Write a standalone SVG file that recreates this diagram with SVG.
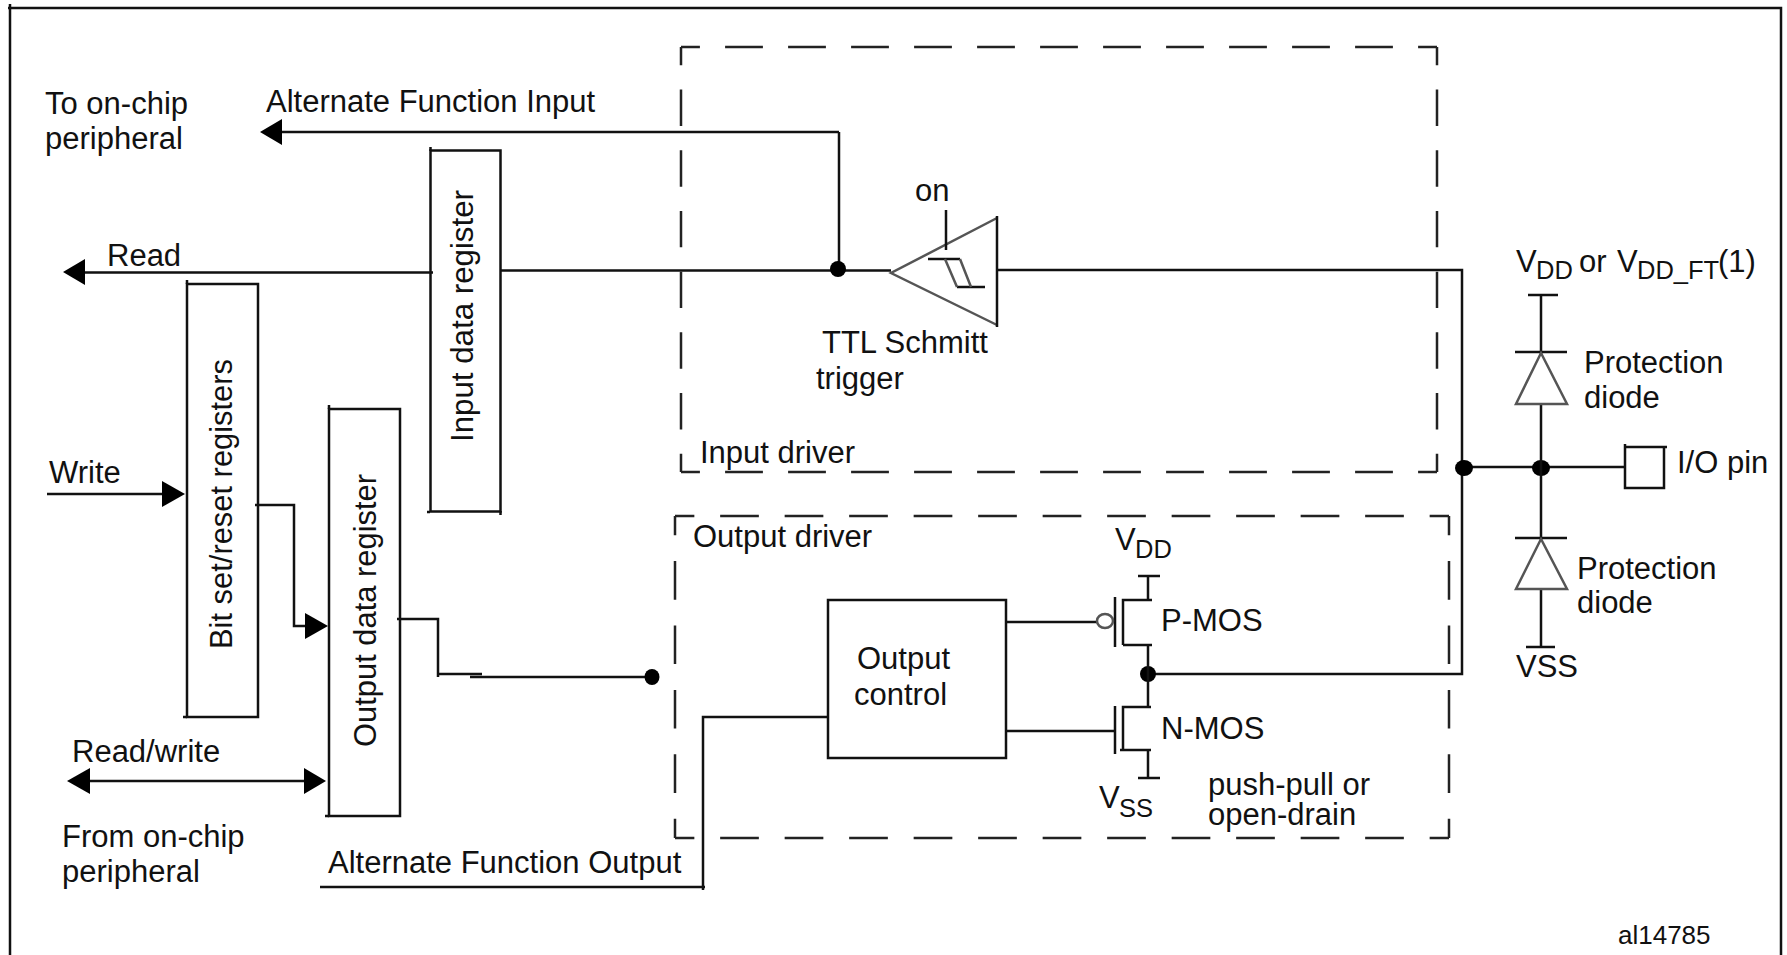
<svg xmlns="http://www.w3.org/2000/svg" width="1787" height="955" viewBox="0 0 1787 955">
<style>
text{font-family:"Liberation Sans",Arial,sans-serif;font-size:31px;fill:#111}
.sub{font-size:25.5px}
.l{fill:none;stroke:#111;stroke-width:2.5}
.g{fill:none;stroke:#555;stroke-width:2.5}
.b{fill:#fff;stroke:#111;stroke-width:2.5}
.d{fill:none;stroke:#222;stroke-width:2.5;stroke-dasharray:.6 .4;stroke-dashoffset:.3}
.k{fill:#000}
</style>
<rect width="1787" height="955" fill="#fff"/>
<path id="frame" class="l" d="M10 955V4M8 8H1781V955"/>
<g id="input-driver">
<path class="d" pathLength="12" d="M681 47H1437"/>
<path class="d" pathLength="12" d="M681 472H1437"/>
<path class="d" pathLength="7" d="M681 47V472"/>
<path class="d" pathLength="7" d="M1437 47V472"/>
<text x="700" y="463">Input driver</text>
</g>
<g id="output-driver">
<path class="d" pathLength="12" d="M675 516H1449"/>
<path class="d" pathLength="12" d="M675 838H1449"/>
<path class="d" pathLength="5" d="M675 516V838"/>
<path class="d" pathLength="5" d="M1449 516V838"/>
<text x="693" y="547">Output driver</text>
</g>
<g id="input-data-register">
<rect class="b" x="430.500" y="150.500" width="70" height="361"/>
<path class="l" d="M430.500 147V151M427 512H430M500.500 511V515"/>
<text transform="translate(473 442) rotate(-90)" textLength="252" lengthAdjust="spacingAndGlyphs">Input data register</text>
</g>
<g id="bit-set-reset-registers">
<rect class="b" x="187" y="284" width="71" height="433"/>
<path class="l" d="M187 280V284M183 717H187"/>
<text transform="translate(232 649) rotate(-90)" textLength="290" lengthAdjust="spacingAndGlyphs">Bit set/reset registers</text>
</g>
<g id="output-data-register">
<rect class="b" x="329" y="409" width="71" height="407"/>
<path class="l" d="M329 405V409M325 816H329"/>
<text transform="translate(376 747) rotate(-90)" textLength="273" lengthAdjust="spacingAndGlyphs">Output data register</text>
</g>
<g id="connectors">
<path class="l" d="M839 132V270M282 132H839"/>
<path class="l" d="M85 272.500H433M500 270.500H891M997 270H1462V674H1148M1463 467H1625"/>
<path class="l" d="M47 494H162M255 505H294V626H305M397 619H438V677M438 674H482M470 677H652M90 781H304M320 887H705M703 890V717H828"/>
<polygon class="k" points="260,132 282,119 282,145"/>
<polygon class="k" points="63,272 85,259 85,285"/>
<polygon class="k" points="185,494 162,481 162,507"/>
<polygon class="k" points="328,626 305,613 305,639"/>
<polygon class="k" points="67,781 90,768 90,794"/>
<polygon class="k" points="326,781 304,768 304,794"/>
<circle class="k" cx="838" cy="269" r="8"/>
<ellipse class="k" cx="652" cy="677" rx="7.500" ry="8"/>
<circle class="k" cx="1148" cy="674" r="8"/>
<ellipse class="k" cx="1464" cy="468" rx="9" ry="8"/>
<ellipse class="k" cx="1541" cy="468" rx="9" ry="8"/>
</g>
<g id="schmitt-trigger">
<path class="g" d="M997 218L891 273L997 325"/>
<path class="l" d="M997 216V327M946 210V250M928 259H960M957 287H985"/>
<path class="g" d="M945 259L957 287M960 259L971 287"/>
<text x="915" y="201">on</text>
<text x="822" y="353">TTL Schmitt</text>
<text x="816" y="389">trigger</text>
</g>
<g id="output-control">
<rect class="b" x="828" y="600" width="178" height="158"/>
<text x="857" y="669">Output</text>
<text x="854" y="705">control</text>
</g>
<g id="p-mos">
<path class="l" d="M1006 622H1097M1115 597V647M1123 645V600H1152M1148 576V600M1138 576H1160M1123 645H1152M1148 645V674"/>
<ellipse cx="1105" cy="621" rx="8" ry="7" fill="#fff" stroke="#555" stroke-width="2.500"/>
<text x="1161" y="631">P-MOS</text>
<text x="1115" y="550">V</text><text class="sub" x="1135" y="558">DD</text>
</g>
<g id="n-mos">
<path class="l" d="M1006 731H1115M1115 706V754M1123 750V707H1151M1148 674V707M1120 750H1151M1148 750V778M1138 778H1160"/>
<text x="1161" y="739">N-MOS</text>
<text x="1099" y="808">V</text><text class="sub" x="1119" y="817">SS</text>
<text x="1208" y="795">push-pull or</text>
<text x="1208" y="825">open-drain</text>
</g>
<g id="protection-diode-top">
<path class="l" d="M1541 295V468M1528 295H1558M1515 352H1567"/>
<path d="M1541 353L1516 404H1567Z" fill="#fff" stroke="#555" stroke-width="2.500"/>
<text x="1516" y="272">V</text><text class="sub" x="1536" y="279">DD</text>
<text x="1579" y="272">or</text>
<text x="1617" y="272">V</text><text class="sub" x="1637" y="279">DD_FT</text>
<text x="1718" y="272">(1)</text>
<text x="1584" y="373">Protection</text>
<text x="1584" y="408">diode</text>
</g>
<g id="protection-diode-bottom">
<path class="l" d="M1541 468V647M1526 647H1555M1515 538H1567"/>
<path d="M1541 539L1516 589H1567Z" fill="#fff" stroke="#555" stroke-width="2.500"/>
<text x="1577" y="579">Protection</text>
<text x="1577" y="613">diode</text>
<text x="1516" y="677">VSS</text>
</g>
<g id="io-pin">
<path class="b" d="M1625 444V488H1664V447M1625 447H1667"/>
<text x="1677" y="473">I/O pin</text>
</g>
<g id="labels">
<text x="45" y="114">To on-chip</text>
<text x="45" y="149">peripheral</text>
<text x="266" y="112">Alternate Function Input</text>
<text x="107" y="266">Read</text>
<text x="49" y="483">Write</text>
<text x="72" y="762">Read/write</text>
<text x="62" y="847">From on-chip</text>
<text x="62" y="882">peripheral</text>
<text x="328" y="873">Alternate Function Output</text>
<text x="1618" y="944" style="font-size:26px">al14785</text>
</g>
</svg>
